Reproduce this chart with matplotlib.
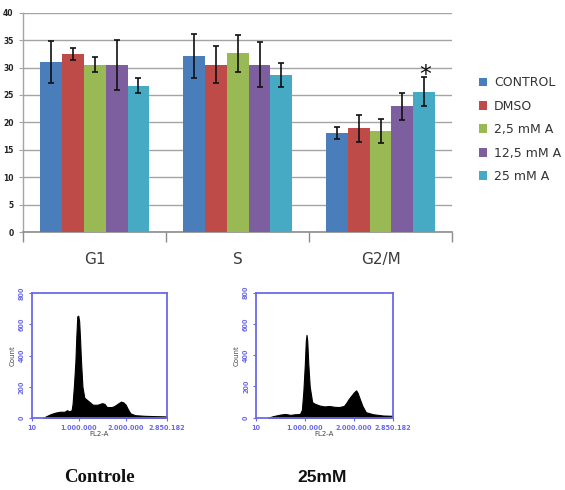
import matplotlib
matplotlib.use('Agg')
import matplotlib.pyplot as plt
import numpy as np

W, H = 565, 490

phases = ['G1', 'S', 'G2/M']
treatments = ['CONTROL', 'DMSO', '2,5 mM A', '12,5 mM A', '25 mM A']
colors = ['#4a7ebb', '#be4b48', '#98b954', '#7d5fa0', '#46aac5']

control = [31.0, 32.1, 18.05]
dmso = [32.4, 30.5, 18.9]
a_2_5 = [30.5, 32.6, 18.4]
a_12_5 = [30.5, 30.5, 22.9]
a_25 = [26.7, 28.6, 25.6]

control_err = [3.8, 4.1, 1.1]
dmso_err = [1.1, 3.4, 2.5]
a_2_5_err = [1.4, 3.4, 2.2]
a_12_5_err = [4.6, 4.1, 2.4]
a_25_err = [1.35, 2.2, 2.6]

y_ticks = [0, 5, 10, 15, 20, 25, 30, 35, 40]

# flow cytometry histograms, x in millions of FL2-A
ctrl_x = [0.25, 0.3, 0.4, 0.5, 0.6, 0.7, 0.75, 0.8, 0.85, 0.87, 0.9, 0.93, 0.95, 0.97, 0.99,
          1.01, 1.03, 1.05, 1.08, 1.12, 1.2, 1.3, 1.4, 1.5, 1.55, 1.6, 1.7, 1.75, 1.8, 1.9,
          1.95, 2.0, 2.05, 2.1, 2.2, 2.4, 2.6, 2.88]
ctrl_count = [0, 10, 24, 34, 40, 40, 50, 42, 50, 90, 210, 360, 520, 650, 655,
              620, 500, 360, 200, 130, 110, 85, 85, 95, 90, 70, 70, 75, 85, 105,
              100, 85, 55, 30, 18, 14, 12, 10]
a25_x = [0.25, 0.35, 0.5, 0.6, 0.7, 0.8, 0.9, 0.94, 0.97, 1.0, 1.02, 1.035, 1.05, 1.07, 1.1,
         1.15, 1.2, 1.3, 1.4, 1.5, 1.6, 1.7, 1.8, 1.85, 1.9, 1.95, 2.0, 2.05, 2.08, 2.12,
         2.18, 2.25, 2.4, 2.6, 2.8]
a25_count = [0, 10, 20, 24, 18, 22, 24, 50, 170, 340, 490, 530, 490, 350, 200,
             100, 90, 78, 72, 75, 70, 68, 75, 95, 120, 140, 160, 175, 160, 125,
             75, 35, 22, 14, 12]
hist_y_ticks = [0, 200, 400, 600, 800]
hist_x_ticks = [0, 1, 2]
hist_x_labels = ['10', '1.000.000', '2.000.000', '2.850.182']


def px_axes(fig, left, top, right, bottom):
    return fig.add_axes([left / W, 1 - bottom / H, (right - left) / W, (bottom - top) / H])


def draw_hist(fig, box, xs, counts, xmax, caption, cap_x, cap_family, cap_size):
    ax = px_axes(fig, *box)
    blue = '#6a6ae8'
    ax.fill_between(xs, counts, 0, color='black', lw=0.8)
    ax.set_xlim(0, xmax)
    ax.set_ylim(0, 800)
    for s in ax.spines.values():
        s.set_color(blue)
        s.set_linewidth(1.3)
    ax.set_xticks(hist_x_ticks + [xmax])
    ax.set_xticklabels(hist_x_labels, fontweight='bold')
    ax.set_yticks(hist_y_ticks)
    ax.set_yticklabels([str(v) for v in hist_y_ticks], rotation=90, va='center', fontweight='bold')
    ax.tick_params(colors=blue, labelsize=4.7, length=2, width=0.8, pad=3)
    ax.set_xlabel('FL2-A', fontsize=5, color='#444444', labelpad=0)
    ax.set_ylabel('Count', fontsize=5, color='#444444', labelpad=2.5)
    fig.text(cap_x / W, 1 - 477 / H, caption, family=cap_family, fontweight='bold',
             fontsize=cap_size, color='#111111', ha='center', va='center')


fig = plt.figure(figsize=(W / 100, H / 100), dpi=100)

ax = px_axes(fig, 23.3, 12.7, 452, 232)
series = [control, dmso, a_2_5, a_12_5, a_25]
errors = [control_err, dmso_err, a_2_5_err, a_12_5_err, a_25_err]
x = np.arange(len(phases))
width = 0.153
for i, (vals, errs) in enumerate(zip(series, errors)):
    ax.bar(x + (i - 2) * width, vals, width, color=colors[i], label=treatments[i], zorder=3,
           yerr=errs, error_kw=dict(ecolor='#111111', elinewidth=1.2, capsize=2, capthick=1.2, zorder=4))

ax.set_xlim(-0.5, 2.5)
ax.set_ylim(0, 40)
ax.set_yticks(y_ticks)
ax.set_yticklabels([str(v) for v in y_ticks], fontsize=5.5, fontweight='bold', color='#222222')
ax.yaxis.grid(True, color='#a4a4a4', lw=1.0, zorder=0)
ax.set_axisbelow(True)
for s in ['top', 'right']:
    ax.spines[s].set_visible(False)
ax.spines['left'].set_color('#a4a4a4')
ax.spines['bottom'].set_color('#8c8c8c')
ax.spines['left'].set_linewidth(1.0)
ax.spines['bottom'].set_linewidth(1.2)
ax.spines['left'].set_bounds(0, 40)
ax.tick_params(axis='y', length=3, color='#a4a4a4', pad=4)
ax.set_xticks([-0.5, 0.5, 1.5, 2.5])
ax.set_xticklabels([])
ax.tick_params(axis='x', length=7, color='#8c8c8c', width=1)
for pos, name in zip(x, phases):
    ax.text(pos, -5.1, name, fontsize=11, color='#3c3c3c', ha='center', va='center')
ax.text(2 + 2 * width + 0.005, 28.6, '*', fontsize=17, color='#111111', ha='center', va='center', zorder=5)

handles, labels = ax.get_legend_handles_labels()
fig.legend(handles, labels, loc='upper left', bbox_to_anchor=(476 / W, 1 - 74 / H), frameon=False,
           fontsize=9, handlelength=0.7, handleheight=0.7, handletextpad=0.55,
           labelspacing=0.83, labelcolor='#333333', borderaxespad=0, borderpad=0.2)

draw_hist(fig, (31.7, 293, 167, 418), ctrl_x, ctrl_count, 2.88, 'Controle', 99, 'Liberation Serif', 13.5)
draw_hist(fig, (256, 292.7, 392.7, 417.7), a25_x, a25_count, 2.8, '25mM', 322, 'Liberation Sans', 12.5)

fig.savefig('out.png', dpi=100)
